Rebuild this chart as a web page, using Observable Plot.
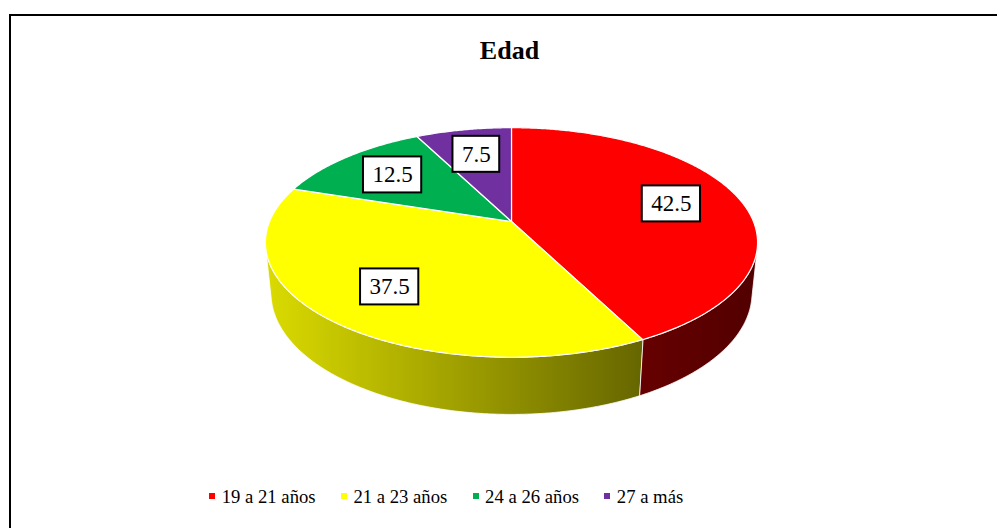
<!DOCTYPE html>
<html>
<head>
<meta charset="utf-8">
<script src="https://cdn.jsdelivr.net/npm/d3@7"></script>
<script src="https://cdn.jsdelivr.net/npm/@observablehq/plot@0.6"></script>
<style>
  html, body { margin: 0; padding: 0; background: #fff; }
  #wrap { position: relative; width: 997px; height: 528px; overflow: hidden;
          font-family: "Liberation Serif", "Times New Roman", serif; color: #000; }
  #chart { position: absolute; left: 0; top: 0; }
  #chart svg text { font-family: "Liberation Serif", "Times New Roman", serif; }
  #frame { position: absolute; left: 9px; top: 14px; width: 1100px; height: 700px;
           border-left: 2px solid #000; border-top: 2px solid #000; box-sizing: border-box; }
  #title { position: absolute; left: 0; width: 1019px; top: 38.2px; text-align: center;
           font-weight: bold; font-size: 26px; line-height: 26px; white-space: nowrap; }
  .item { position: absolute; top: 488.3px; font-size: 18.7px; line-height: 18.7px; white-space: nowrap; }
  .item .sw { position: absolute; left: 0; top: 4.4px; width: 6px; height: 6px; }
  .item .lb { position: absolute; left: 12.4px; top: 0; }
</style>
</head>
<body>
<div id="wrap">
  <div id="chart"></div>
  <div id="frame"></div>
  <div id="title"></div>
  <div id="legend"></div>
</div>
<script>
// ---- data ----
const chartTitle = "Edad";
const categories = ["19 a 21 años", "21 a 23 años", "24 a 26 años", "27 a más"];
const values = [42.5, 37.5, 12.5, 7.5];
const colors = ["#ff0000", "#ffff00", "#00b050", "#7030a0"];

// ---- 3D pie camera (perspective) ----
const W = 997, H = 528;
const cam = { F: 1177, D: 4.865, elev: 27.3 * Math.PI / 180, cx: 511, cy: 221, depth: 0.2373 };
const sa = Math.sin(cam.elev), ca = Math.cos(cam.elev);
function proj(X, Y, Z) {
  const d = cam.D - Y * sa - Z * ca;
  const up = Y * ca - Z * sa;
  return { x: cam.cx + cam.F * X / d, y: cam.cy - cam.F * up / d };
}
const onTop = (t, r = 1) => proj(r * Math.sin(t), 0, -r * Math.cos(t));
const onBottom = t => proj(Math.sin(t), -cam.depth, -Math.cos(t));

// angles: start at 12 o'clock, clockwise
const total = d3.sum(values);
let cum = 0;
const slices = values.map((v, i) => {
  const a0 = cum / total * 2 * Math.PI; cum += v;
  const a1 = cum / total * 2 * Math.PI;
  return { i, key: categories[i], value: v, a0, a1 };
});

const step = Math.PI / 360;
function arc(a0, a1, f) {
  const n = Math.max(2, Math.ceil((a1 - a0) / step));
  return d3.range(n + 1).map(k => f(a0 + (a1 - a0) * k / n));
}

// top faces
const tops = slices.flatMap(s => {
  const pts = [proj(0, 0, 0), ...arc(s.a0, s.a1, t => onTop(t))];
  return pts.map(p => ({ ...p, key: s.key }));
});

// visible side range
const vis0 = Math.acos(-1 / (cam.D * ca)), vis1 = 2 * Math.PI - vis0;
const sides = slices.map(s => {
  const lo = Math.max(s.a0, vis0), hi = Math.min(s.a1, vis1);
  if (lo >= hi) return null;
  const pts = [...arc(lo, hi, t => onTop(t)), ...arc(lo, hi, t => onBottom(t)).reverse()];
  return { s, pts };
}).filter(Boolean);

// labels
const labelR = 0.7;
const ctx = document.createElement("canvas").getContext("2d");
ctx.font = "23px 'Liberation Serif'";
const labels = slices.map(s => {
  const m = (s.a0 + s.a1) / 2;
  const p = onTop(m, labelR);
  const text = String(s.value);
  return { ...p, text, w: ctx.measureText(text).width + 18 };
});

const gx0 = onTop(vis1).x, gx1 = onTop(vis0).x;

const svg = Plot.plot({
  width: W, height: H,
  margin: 0,
  style: { background: "transparent", fontFamily: "Liberation Serif, serif" },
  x: { domain: [0, W], range: [0, W], axis: null },
  y: { domain: [0, H], range: [0, H], axis: null },
  color: { domain: categories, range: colors },
  marks: [
    ...sides.map(({ s, pts }) => Plot.line(pts, {
      x: "x", y: "y", curve: "linear-closed",
      fill: `url(#side-${s.i})`, stroke: "white", strokeWidth: 0.8
    })),
    Plot.line(tops, {
      x: "x", y: "y", z: "key", fill: "key", curve: "linear-closed",
      stroke: "white", strokeWidth: 1.2, strokeLinejoin: "round"
    }),
    Plot.rect(labels, {
      x1: d => d.x - d.w / 2, x2: d => d.x + d.w / 2,
      y1: d => d.y - 18, y2: d => d.y + 18,
      fill: "white", stroke: "black", strokeWidth: 2
    }),
    Plot.text(labels, {
      x: "x", y: "y", text: "text", fontSize: 23,
      fontFamily: "Liberation Serif", fill: "black"
    })
  ]
});

// gradients for the side walls
const defs = d3.select(svg).insert("defs", ":first-child");
const shade = [[0, 0.86], [0.766, 0.40], [1, 0.32]];
sides.forEach(({ s }) => {
  const c = d3.rgb(colors[s.i]);
  const g = defs.append("linearGradient")
    .attr("id", `side-${s.i}`).attr("gradientUnits", "userSpaceOnUse")
    .attr("x1", gx0).attr("x2", gx1).attr("y1", 0).attr("y2", 0);
  shade.forEach(([o, f]) => {
    g.append("stop").attr("offset", o)
      .attr("stop-color", d3.rgb(c.r * f, c.g * f, c.b * f).formatHex());
  });
});

document.getElementById("chart").appendChild(svg);
document.getElementById("title").textContent = chartTitle;

const legend = document.getElementById("legend");
categories.forEach((c, i) => {
  const item = document.createElement("div");
  item.className = "item";
  item.style.left = (209.3 + i * 131.7) + "px";
  const sw = document.createElement("span");
  sw.className = "sw"; sw.style.background = colors[i];
  const lb = document.createElement("span");
  lb.className = "lb"; lb.textContent = c;
  item.appendChild(sw); item.appendChild(lb);
  legend.appendChild(item);
});
</script>
</body>
</html>
